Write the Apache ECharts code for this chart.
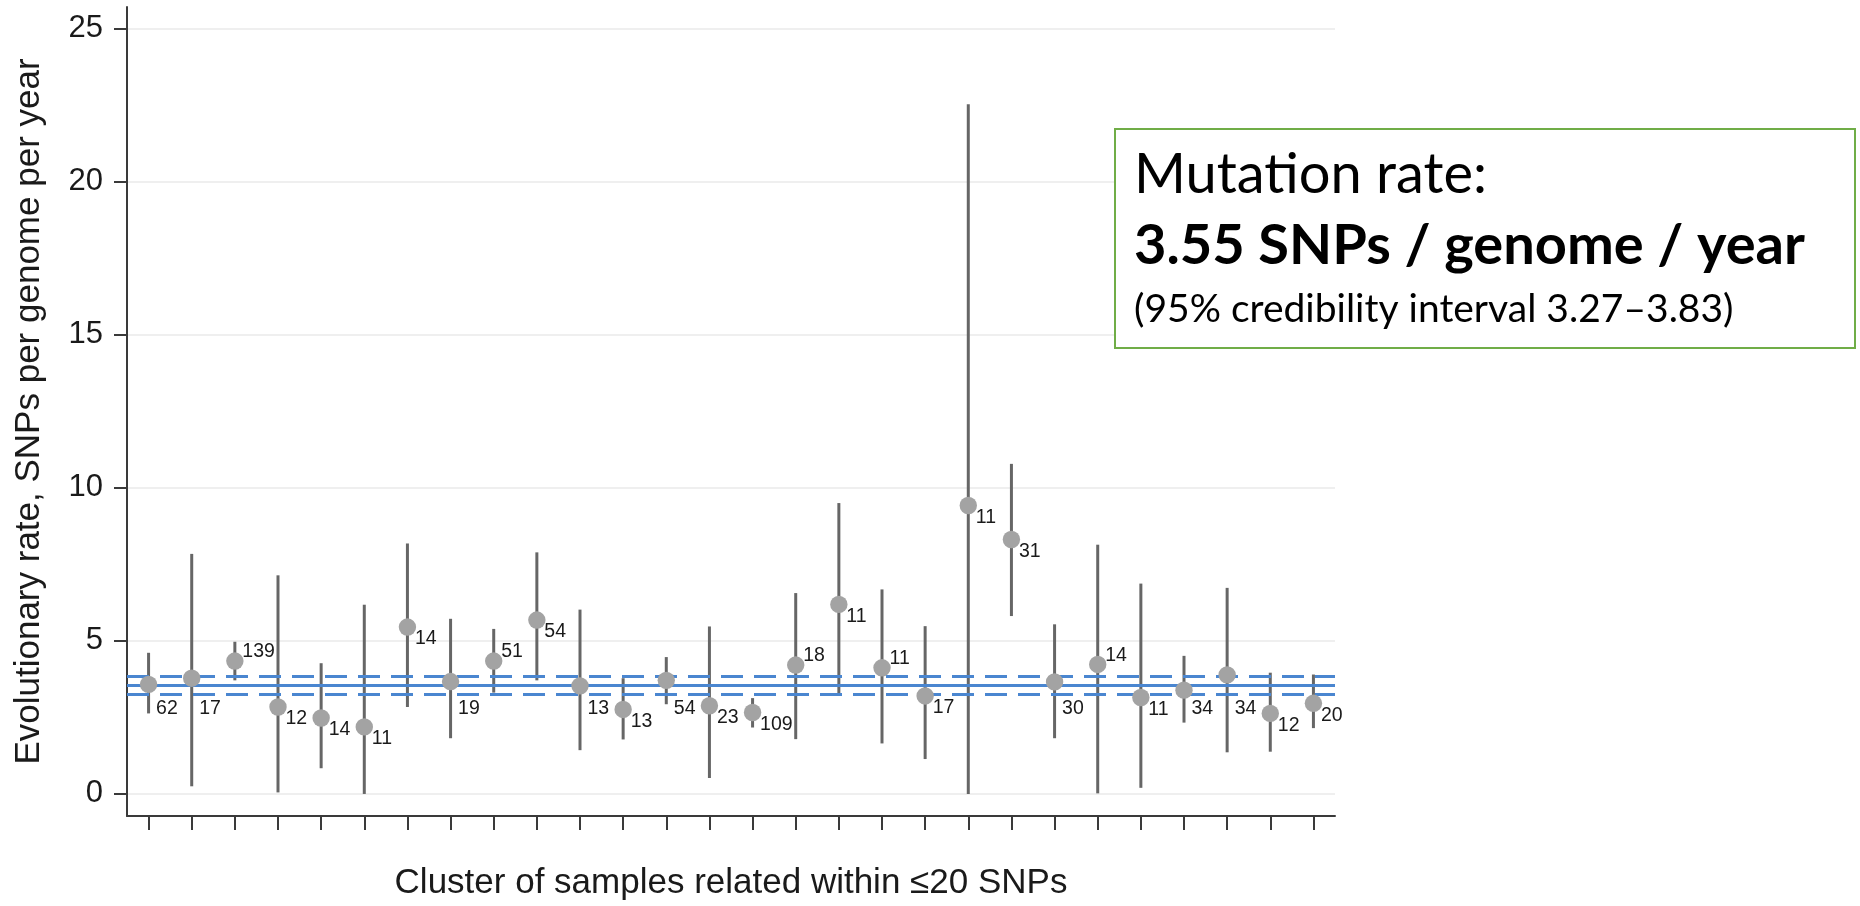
<!DOCTYPE html>
<html>
<head>
<meta charset="utf-8">
<script src="https://cdn.jsdelivr.net/npm/echarts@6/dist/echarts.min.js"></script>
<style>
  html, body { margin: 0; padding: 0; background: #fff; }
  #chart { width: 1860px; height: 906px; }
</style>
</head>
<body>
<div id="chart"></div>
<script>
// samples per cluster (printed next to each point)
const clusterSizes = [62, 17, 139, 12, 14, 11, 14, 19, 51, 54, 13, 13, 54, 23, 109, 18, 11, 11, 17, 11, 31, 30, 14, 11, 34, 34, 12, 20]
// evolutionary rate per cluster, SNPs per genome per year
const rateMean = [3.58, 3.78, 4.34, 2.84, 2.48, 2.19, 5.45, 3.67, 4.34, 5.68, 3.53, 2.76, 3.71, 2.88, 2.66, 4.21, 6.19, 4.12, 3.2, 9.42, 8.31, 3.66, 4.23, 3.15, 3.39, 3.89, 2.63, 2.96]
const rateLow = [2.63, 0.25, 3.71, 0.05, 0.84, 0, 2.84, 1.82, 3.31, 3.71, 1.43, 1.78, 2.93, 0.52, 2.17, 1.79, 3.26, 1.65, 1.14, 0, 5.81, 1.82, 0.02, 0.2, 2.33, 1.36, 1.38, 2.15]
const rateHigh = [4.61, 7.84, 4.97, 7.14, 4.27, 6.18, 8.18, 5.72, 5.39, 7.89, 6.02, 3.78, 4.47, 5.47, 3.13, 6.56, 9.5, 6.68, 5.48, 22.52, 10.78, 5.54, 8.14, 6.87, 4.51, 6.73, 3.96, 3.9]
// pooled estimate and its 95% credibility interval
const overallRate = 3.55
const overallLow = 3.27
const overallHigh = 3.83
const yTicks = [0, 5, 10, 15, 20, 25]

// where each count label sits: br = below right, tr = above right, low = moved under the blue lines
const labelPos = ['low', 'low', 'tr', 'br', 'br', 'br', 'br', 'low', 'tr', 'br', 'low', 'br', 'low', 'br',
  'br', 'tr', 'br', 'tr', 'br', 'br', 'br', 'low', 'tr', 'br', 'low', 'low', 'br', 'br']
const lowLabelY = 2.8

const axisFont = '"Liberation Sans", Arial, Helvetica, sans-serif'
const boxFont = 'Lato, "Open Sans", sans-serif'

const chart = echarts.init(document.getElementById('chart'))

const option = {
  animation: false,
  backgroundColor: '#fff',
  grid: { left: 127, right: 525, top: 7, bottom: 85 },
  xAxis: {
    type: 'category',
    data: clusterSizes.map((_, i) => String(i + 1)),
    boundaryGap: true,
    name: 'Cluster of samples related within ≤20 SNPs',
    nameLocation: 'middle',
    nameGap: 50,
    nameTextStyle: { fontFamily: axisFont, fontSize: 35, color: '#1a1a1a' },
    axisLine: { show: true, onZero: false, lineStyle: { color: '#3a3a3a', width: 2 } },
    axisTick: { show: true, alignWithLabel: true, length: 14, lineStyle: { color: '#3a3a3a', width: 2 } },
    axisLabel: { show: false },
    splitLine: { show: false },
  },
  yAxis: {
    type: 'value',
    min: -0.72,
    max: 25.7,
    name: 'Evolutionary rate, SNPs per genome per year',
    nameLocation: 'middle',
    nameGap: 80,
    nameTextStyle: { fontFamily: axisFont, fontSize: 35, color: '#1a1a1a' },
    axisLine: { show: true, lineStyle: { color: '#3a3a3a', width: 2 } },
    axisTick: { show: true, length: 13, customValues: yTicks, lineStyle: { color: '#3a3a3a', width: 2 } },
    axisLabel: { customValues: yTicks, margin: 24, fontFamily: axisFont, fontSize: 31, color: '#1a1a1a' },
    splitLine: { show: true, lineStyle: { color: '#efefef', width: 2 } },
  },
  series: [
    {
      // credible interval whiskers
      type: 'custom',
      z: 2,
      silent: true,
      data: clusterSizes.map((_, i) => [i, rateLow[i], rateHigh[i]]),
      renderItem: (params, api) => {
        const lo = api.coord([api.value(0), api.value(1)])
        const hi = api.coord([api.value(0), api.value(2)])
        return {
          type: 'line',
          shape: { x1: lo[0], y1: lo[1], x2: hi[0], y2: hi[1] },
          style: { stroke: '#666666', lineWidth: 3 },
        }
      },
    },
    {
      // overall rate with its interval
      type: 'scatter',
      data: [],
      z: 3,
      markLine: {
        silent: true,
        symbol: 'none',
        z: 3,
        label: { show: false },
        lineStyle: { color: '#4a86d0', width: 3, type: 'solid' },
        data: [
          { yAxis: overallHigh, lineStyle: { type: [22, 11] } },
          { yAxis: overallRate },
          { yAxis: overallLow, lineStyle: { type: [22, 11] } },
        ],
      },
    },
    {
      // point estimates and cluster sizes
      type: 'custom',
      z: 4,
      silent: true,
      data: clusterSizes.map((_, i) => [i, rateMean[i]]),
      renderItem: (params, api) => {
        const i = params.dataIndex
        const p = api.coord([api.value(0), api.value(1)])
        let ly = p[1] + 12
        if (labelPos[i] === 'tr') ly = p[1] - 9
        if (labelPos[i] === 'low') ly = api.coord([i, lowLabelY])[1]
        return {
          type: 'group',
          children: [
            { type: 'circle', shape: { cx: p[0], cy: p[1], r: 8.7 }, style: { fill: '#a3a3a3' } },
            {
              type: 'text',
              style: {
                text: String(clusterSizes[i]),
                x: p[0] + 7.5,
                y: ly,
                align: 'left',
                verticalAlign: 'middle',
                fontFamily: axisFont,
                fontSize: 19.5,
                fill: '#1a1a1a',
              },
            },
          ],
        }
      },
    },
  ],
  graphic: [
    {
      type: 'rect',
      shape: { x: 1115, y: 129, width: 740, height: 219 },
      style: { fill: '#fff', stroke: '#70ad47', lineWidth: 2 },
      z: 10,
    },
    {
      type: 'text',
      x: 1134,
      y: 175,
      z: 11,
      style: { text: 'Mutation rate:', fontFamily: boxFont, fontSize: 56, fill: '#000', verticalAlign: 'middle' },
    },
    {
      type: 'text',
      x: 1134,
      y: 246,
      z: 11,
      style: { text: '3.55 SNPs / genome / year', fontFamily: boxFont, fontWeight: 'bold', fontSize: 56, fill: '#000', verticalAlign: 'middle' },
    },
    {
      type: 'text',
      x: 1134,
      y: 309,
      z: 11,
      style: { text: '(95% credibility interval 3.27–3.83)', fontFamily: boxFont, fontSize: 39, fill: '#000', verticalAlign: 'middle' },
    },
  ],
}

chart.setOption(option)
</script>
</body>
</html>
